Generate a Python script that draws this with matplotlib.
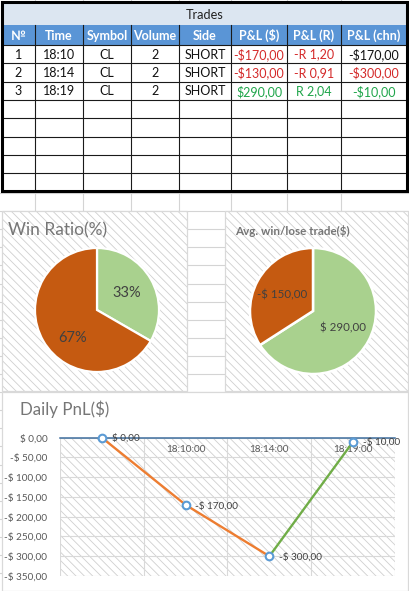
import matplotlib
matplotlib.use('Agg')
import matplotlib.pyplot as plt
from matplotlib.patches import Rectangle
import math

plt.rcParams['font.family'] = ['Lato', 'DejaVu Sans']
plt.rcParams['hatch.linewidth'] = 0.6

W, H = 410, 591

# ---------------- data ----------------
table_title = 'Trades'
columns = ['№', 'Time', 'Symbol', 'Volume', 'Side', 'P&L ($)', 'P&L (R)', 'P&L (chn)']
trade_no = [1, 2, 3]
trade_time = ['18:10', '18:14', '18:19']
trade_symbol = ['CL', 'CL', 'CL']
trade_volume = [2, 2, 2]
trade_side = ['SHORT', 'SHORT', 'SHORT']
pnl_usd = [-170.00, -130.00, 290.00]
pnl_r = [-1.20, -0.91, 2.04]
pnl_chn = [-170.00, -300.00, -10.00]
empty_rows = 5

win_labels = ['Win', 'Lose']
win_counts = [1, 2]
avg_labels = ['Avg win', 'Avg lose']
avg_values = [290.00, -150.00]

daily_times = ['', '18:10:00', '18:14:00', '18:19:00']
daily_pnl = [0.00, -170.00, -300.00, -10.00]
y_ticks = [0, -50, -100, -150, -200, -250, -300, -350]

# ---------------- styles ----------------
RED = '#D42A2A'
GREEN = '#1FA54A'
BLACK = '#111111'
chn_colors = [BLACK, RED, GREEN]
GRID = '#D4D4D4'
HATCH = '#D0D0D0'
HATCH_PAT = '\\\\\\\\'
BORDER = '#D9D9D9'
PIE_GREEN = '#A9D18E'
PIE_ORANGE = '#C55A11'
LINE_ORANGE = '#ED7D31'
LINE_GREEN = '#70AD47'
MARKER_BLUE = '#5B9BD5'
TITLE_GRAY = '#767676'
TEXT_GRAY = '#404040'
seg_colors = [LINE_ORANGE, LINE_ORANGE, LINE_GREEN]


def money(v, space=False):
    s = f"{abs(v):.2f}".replace('.', ',')
    sign = '-' if v < 0 else ''
    return f"{sign}${' ' if space else ''}{s}"


def rmult(v):
    s = f"{abs(v):.2f}".replace('.', ',')
    sign = '-' if v < 0 else ''
    return f"{sign}R {s}"


def sign_color(v):
    return RED if v < 0 else GREEN


def px_axes(fig, x0, y0, x1, y1, **kw):
    return fig.add_axes([x0 / W, 1 - y1 / H, (x1 - x0) / W, (y1 - y0) / H], **kw)


fig = plt.figure(figsize=(W / 100, H / 100), dpi=100)
bg = fig.add_axes([0, 0, 1, 1])
bg.set_xlim(0, W)
bg.set_ylim(H, 0)
bg.axis('off')

# ---------------- sheet gridlines ----------------
col_x = [2, 35, 83, 131, 179, 231, 287, 341, 407]
for cx in col_x[1:-1]:
    bg.plot([cx, cx], [0, H], color=GRID, lw=0.8, zorder=0)
ry = 193.0
while ry < H:
    bg.plot([0, W], [ry, ry], color=GRID, lw=0.8, zorder=0)
    ry += 18.1

# ---------------- table ----------------
top, title_b, head_b = 3, 25, 45
row_h = 18.3
n_rows = len(trade_no) + empty_rows
table_bottom = head_b + n_rows * row_h
bg.add_patch(Rectangle((col_x[0], top), col_x[-1] - col_x[0], table_bottom - top,
                       facecolor='white', edgecolor='none', zorder=1))
bg.add_patch(Rectangle((col_x[0], top), col_x[-1] - col_x[0], title_b - top,
                       facecolor='#DCE6F1', edgecolor='none', zorder=2))
bg.add_patch(Rectangle((col_x[0], title_b), col_x[-1] - col_x[0], head_b - title_b,
                       facecolor='#5A95D6', edgecolor='none', zorder=2))
bg.text((col_x[0] + col_x[-1]) / 2, (top + title_b) / 2 + 1, table_title,
        ha='center', va='center', fontsize=9.2, color='#222222', zorder=5)
for i, c in enumerate(columns):
    bg.text((col_x[i] + col_x[i + 1]) / 2, (title_b + head_b) / 2 + 0.5, c,
            ha='center', va='center', fontsize=9.0, fontweight='bold', color='white', zorder=5)
for cx in col_x[1:-1]:
    bg.plot([cx, cx], [title_b, table_bottom], color='#1A1A1A', lw=0.8, zorder=3)
for r in range(n_rows + 1):
    yy = head_b + r * row_h
    bg.plot([col_x[0], col_x[-1]], [yy, yy], color='#1A1A1A', lw=0.8, zorder=3)
for r in range(len(trade_no)):
    yc = head_b + r * row_h + row_h / 2 + 0.5
    vals = [(str(trade_no[r]), BLACK), (trade_time[r], BLACK), (trade_symbol[r], BLACK),
            (str(trade_volume[r]), BLACK), (trade_side[r], BLACK),
            (money(pnl_usd[r]), sign_color(pnl_usd[r])),
            (rmult(pnl_r[r]), sign_color(pnl_r[r])),
            (money(pnl_chn[r]), chn_colors[r])]
    for i, (t, col) in enumerate(vals):
        bg.text((col_x[i] + col_x[i + 1]) / 2, yc, t, ha='center', va='center',
                fontsize=9.0, color=col, zorder=5)
bg.add_patch(Rectangle((col_x[0], top - 1), col_x[-1] - col_x[0], table_bottom - top + 1,
                       facecolor='none', edgecolor='black', lw=2.2, zorder=6))

# ---------------- chart boxes ----------------
win_box = (2, 211, 187, 391)
avg_box = (225, 211, 408, 391)
daily_box = (2, 392, 408, 591)
for (x0, y0, x1, y1), hatched in [(win_box, True), (avg_box, True), (daily_box, False)]:
    bg.add_patch(Rectangle((x0, y0), x1 - x0, y1 - y0, facecolor='white',
                           edgecolor=HATCH if hatched else 'none', lw=0,
                           hatch=HATCH_PAT if hatched else None, zorder=7))
    bg.add_patch(Rectangle((x0, y0), x1 - x0, y1 - y0, facecolor='none',
                           edgecolor=BORDER, lw=0.9, zorder=8))

bg.text(8, 235, 'Win Ratio(%)', ha='left', va='baseline', fontsize=12.5,
        color=TITLE_GRAY, zorder=9)
bg.text(235, 235, 'Avg. win/lose trade($)', ha='left', va='baseline', fontsize=8.4,
        fontweight='bold', color=TITLE_GRAY, zorder=9)
bg.text(20, 415, 'Daily PnL($)', ha='left', va='baseline', fontsize=12.2,
        color=TITLE_GRAY, zorder=9)

# ---------------- pies ----------------
ax1 = px_axes(fig, 35, 248, 159, 372)
w1, t1, a1 = ax1.pie(win_counts, colors=[PIE_GREEN, PIE_ORANGE], startangle=90, counterclock=False,
                     autopct='%1.0f%%', pctdistance=0.56, radius=1,
                     wedgeprops=dict(edgecolor='white', linewidth=1.6),
                     textprops=dict(fontsize=10.5, color=TEXT_GRAY))
# Excel "best fit" nudges the larger slice's label further round the slice
ang = math.radians(228)
a1[1].set_position((0.6 * math.cos(ang), 0.6 * math.sin(ang)))
ax1.set_xlim(-1, 1)
ax1.set_ylim(-1, 1)
ax1.set_aspect('equal')
ax1.axis('off')

ax2 = px_axes(fig, 250, 248, 376, 374)
avg_abs = [abs(v) for v in avg_values]
w2, t2, a2 = ax2.pie(avg_abs, colors=[PIE_GREEN, PIE_ORANGE], startangle=90, counterclock=False,
                     autopct='%1.0f', pctdistance=0.55, radius=1,
                     wedgeprops=dict(edgecolor='white', linewidth=1.8),
                     textprops=dict(fontsize=8.3, color=TEXT_GRAY))
for txt, v in zip(a2, avg_values):
    txt.set_text(money(v, space=True))
ax2.set_xlim(-1, 1)
ax2.set_ylim(-1, 1)
ax2.set_aspect('equal')
ax2.axis('off')

# ---------------- line chart ----------------
ax3 = px_axes(fig, 60, 437.7, 395, 576)
ax3.set_facecolor('none')
ax3.add_patch(Rectangle((0, 0), 1, 1, transform=ax3.transAxes, facecolor='white',
                        edgecolor=HATCH, lw=0, hatch=HATCH_PAT, zorder=0))
xs = list(range(len(daily_pnl)))
ax3.set_xlim(-0.5, len(daily_pnl) - 0.5)
ax3.set_ylim(y_ticks[-1], y_ticks[0])
ax3.set_yticks(y_ticks)
ax3.set_yticklabels([money(v, space=True) for v in y_ticks])
ax3.set_xticks(xs)
ax3.set_xticklabels(daily_times)
ax3.set_xticks([x - 0.5 for x in xs] + [xs[-1] + 0.5], minor=True)
ax3.tick_params(axis='both', which='both', length=0, labelsize=7.2, labelcolor='#595959')
ax3.tick_params(axis='y', pad=9)
ax3.tick_params(axis='x', pad=5)
ax3.grid(True, axis='y', which='major', color=BORDER, lw=0.8, zorder=1)
ax3.grid(True, axis='x', which='minor', color=BORDER, lw=0.8, zorder=1)
ax3.grid(False, axis='x', which='major')
ax3.set_axisbelow(True)
for s in ['left', 'right', 'top']:
    ax3.spines[s].set_visible(False)
ax3.spines['bottom'].set_position(('data', 0))
ax3.spines['bottom'].set_color('#3F6E9E')
ax3.spines['bottom'].set_linewidth(1.1)
for i in range(len(daily_pnl) - 1):
    ax3.plot(xs[i:i + 2], daily_pnl[i:i + 2], color=seg_colors[i], lw=1.7,
             solid_capstyle='round', zorder=4, clip_on=False)
ax3.plot(xs, daily_pnl, ls='none', marker='o', markersize=5.5, markerfacecolor='white',
         markeredgecolor=MARKER_BLUE, markeredgewidth=1.5, zorder=5, clip_on=False)
for x, v in zip(xs, daily_pnl):
    ax3.annotate(money(v, space=True), (x, v), xytext=(7, -0.5), textcoords='offset points',
                 ha='left', va='center', fontsize=7.2, color=TEXT_GRAY, zorder=6,
                 annotation_clip=False)

fig.savefig('out.png', dpi=100)
